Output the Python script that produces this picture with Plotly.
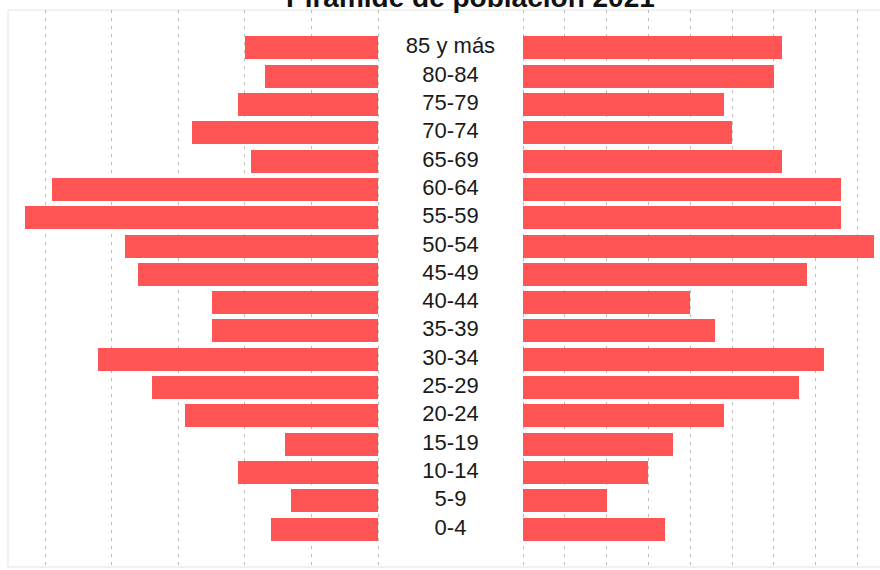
import plotly.graph_objects as go

# Age groups (bottom to top)
grupos = ['0-4', '5-9', '10-14', '15-19', '20-24', '25-29', '30-34', '35-39',
          '40-44', '45-49', '50-54', '55-59', '60-64', '65-69', '70-74',
          '75-79', '80-84', '85 y más']
# Left side population
hombres = [16, 13, 21, 14, 29, 34, 42, 25, 25, 36, 38, 53, 49, 19, 28, 21, 17, 20]
# Right side population
mujeres = [17, 10, 15, 18, 24, 33, 36, 23, 20, 34, 42, 38, 38, 31, 25, 24, 30, 31]

titulo = 'Pirámide de población 2021'

BAR = '#FF5454'
W, H = 880, 570
ml, mr, mt, mb = 8, 0, 10, 3
pw = W - ml - mr
ph = H - mt - mb

def fx(px):
    return (px - ml) / pw

ppu_l = 6.66   # px per unit, left panel
ppu_r = 8.36   # px per unit, right panel
zero_l, zero_r = 378, 523
left_edge, mid_l, mid_r, right_edge = 8, 392, 509, 880

fig = go.Figure()
fig.add_trace(go.Bar(y=grupos, x=[-v for v in hombres], orientation='h',
                     marker=dict(color=BAR, line=dict(width=0)), width=0.81,
                     xaxis='x', yaxis='y', showlegend=False,
                     hovertemplate='%{y}: %{customdata}<extra></extra>',
                     customdata=hombres))
fig.add_trace(go.Bar(y=grupos, x=mujeres, orientation='h',
                     marker=dict(color=BAR, line=dict(width=0)), width=0.81,
                     xaxis='x3', yaxis='y', showlegend=False))
fig.add_trace(go.Scatter(y=grupos, x=[0] * len(grupos), mode='text', text=grupos,
                         textfont=dict(family='Liberation Sans, Arial, sans-serif',
                                       size=22, color='#1a1a1a'),
                         textposition='middle center', xaxis='x2', yaxis='y',
                         showlegend=False, hoverinfo='skip'))

grid = dict(showgrid=True, gridcolor='#bcbcbc', griddash='3px,5px', gridwidth=1,
            zeroline=False, showticklabels=False, ticks='', showline=False,
            fixedrange=True)

fig.update_layout(
    width=W, height=H,
    margin=dict(l=ml, r=mr, t=mt, b=mb, pad=0),
    paper_bgcolor='white', plot_bgcolor='white',
    bargap=0,
    xaxis=dict(domain=[0, fx(mid_l)],
               range=[-(zero_l - left_edge) / ppu_l, (mid_l - zero_l) / ppu_l],
               tickmode='array', tickvals=[-50, -40, -30, -20, -10, 0], **grid),
    xaxis2=dict(domain=[fx(mid_l), fx(mid_r)], range=[-1, 1], showgrid=False,
                zeroline=False, showticklabels=False, ticks='', anchor='y'),
    xaxis3=dict(domain=[fx(mid_r), 1], anchor='y',
                range=[-(zero_r - mid_r) / ppu_r, (right_edge - zero_r) / ppu_r],
                tickmode='array', tickvals=[0, 5, 10, 15, 20, 25, 30, 35, 40], **grid),
    yaxis=dict(type='category', categoryorder='array', categoryarray=grupos,
               range=[-1.34, 18.34], showgrid=False, zeroline=False,
               showticklabels=False, ticks='', showline=False),
    shapes=[dict(type='rect', xref='paper', yref='paper', x0=0, x1=1.02, y0=0, y1=1,
                 line=dict(color='#e3e3e3', width=1), layer='below')],
    annotations=[dict(text='<b>' + titulo + '</b>', xref='paper', yref='paper',
                      x=fx(470), y=1 + 12 / ph,
                      xanchor='center', yanchor='middle', showarrow=False,
                      font=dict(family='Liberation Sans, Arial, sans-serif',
                                size=28, color='#111111'))],
)

fig.write_html('out.html', config={'displayModeBar': False},
               post_script="document.body.style.margin='0px';"
                           "document.body.style.overflow='hidden';")
